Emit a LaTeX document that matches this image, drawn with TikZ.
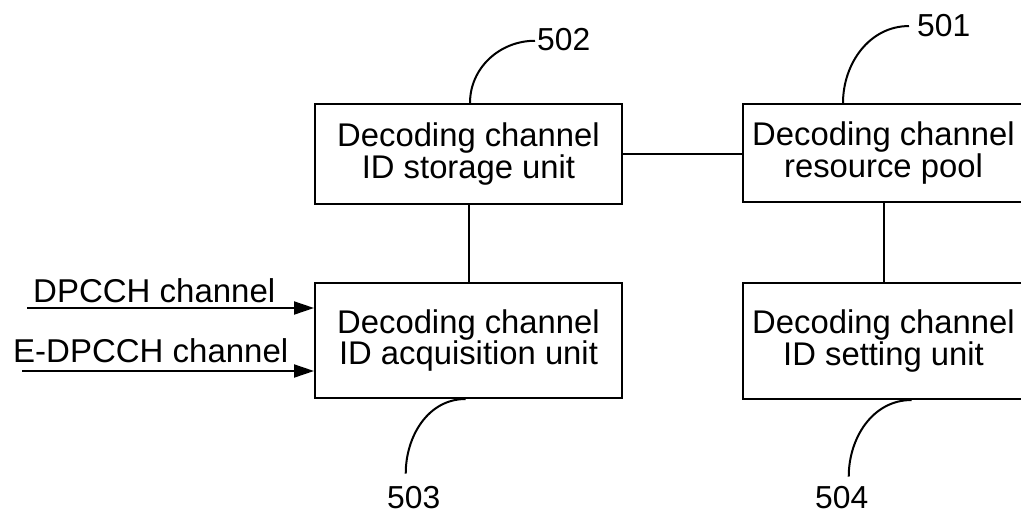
\documentclass[tikz,border=0pt]{standalone}
\usepackage{fontspec}
\setmainfont{Liberation Sans}
\usetikzlibrary{arrows.meta}
\tikzset{
  unitbox/.style={draw, line width=2pt, inner sep=0pt, align=center,
    font=\fontsize{32.8}{30}\selectfont},
  wire/.style={line width=2pt},
  lead/.style={line width=2pt},
  arr/.style={line width=2pt, -{Triangle[length=20pt,width=13pt]}},
  sig/.style={inner sep=0pt, anchor=base west, font=\fontsize{33}{33}\selectfont},
  num/.style={inner sep=0pt, anchor=base west, font=\fontsize{31.8}{32}\selectfont},
}
\begin{document}
\begin{tikzpicture}[x=1pt,y=-1pt]
\useasboundingbox (0,0) rectangle (1021,515);
% boxes
\node[unitbox, minimum width=307pt, minimum height=100pt] (b502) at (468.5,154)
  {Decoding channel\\ID storage unit};
\node[unitbox, minimum width=281pt, minimum height=98pt] (b501) at (883.5,153)
  {Decoding channel\\resource pool};
\node[unitbox, minimum width=307pt, minimum height=115pt] (b503) at (468.5,340.5)
  {Decoding channel\\ID acquisition unit};
\node[unitbox, minimum width=281pt, minimum height=116pt] (b504) at (883.5,341)
  {Decoding channel\\ID setting unit};
% connections
\draw[wire] (b502.east) -- (b502.east -| b501.west);
\draw[wire] (b502.south) -- (b503.north);
\draw[wire] (b501.south) -- (b504.north);
% inputs
\node[sig] (t1) at (33,302) {DPCCH channel};
\node[sig] (t2) at (13,362) {E-DPCCH channel};
\coordinate (in1) at (27,308);
\coordinate (in2) at (22,371);
\draw[arr] (in1) -- (in1 -| b503.west);
\draw[arr] (in2) -- (in2 -| b503.west);
% reference numerals
\node[num] (l502) at (537,50.7) {502};
\node[num] (l501) at (917,36) {501};
\node[num] (l503) at (387,508) {503};
\node[num] (l504) at (815,508) {504};
\draw[lead] ([xshift=1.5pt]b502.north) to[out=90,in=180] ([xshift=-2pt,yshift=-1pt]l502.west);
\draw[lead] ([xshift=-40.5pt]b501.north) to[out=90,in=180] ([xshift=-8pt,yshift=-1pt]l501.west);
\draw[lead] ([xshift=-3pt]b503.south) to[out=180,in=90] ([xshift=-8pt,yshift=12pt]l503.north);
\draw[lead] ([xshift=28pt]b504.south) to[out=180,in=90] ([xshift=7pt,yshift=9pt]l504.north);
\end{tikzpicture}
\end{document}
